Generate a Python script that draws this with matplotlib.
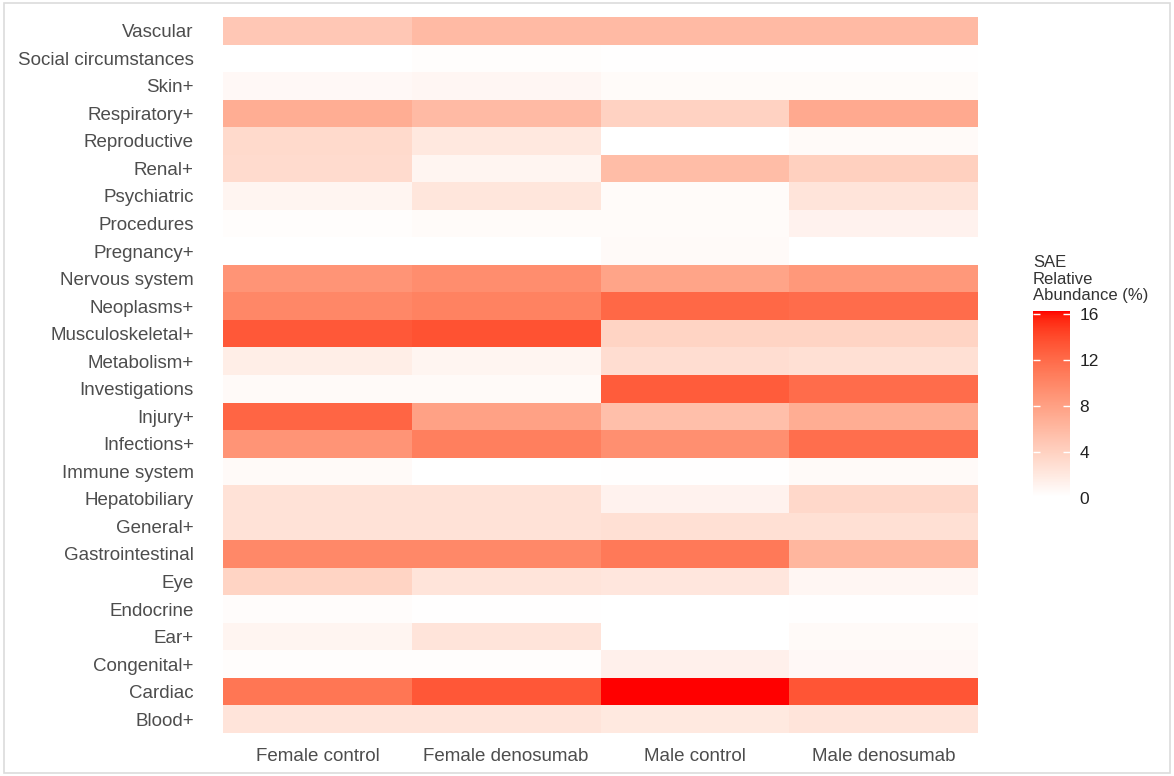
import numpy as np
import matplotlib
matplotlib.use("Agg")
import matplotlib.pyplot as plt
from matplotlib.colors import ListedColormap, Normalize
from matplotlib.patches import Rectangle

plt.rcParams['font.family'] = ['Liberation Sans', 'DejaVu Sans']

# SAE categories, listed top to bottom
categories = [
    "Vascular", "Social circumstances", "Skin+", "Respiratory+", "Reproductive",
    "Renal+", "Psychiatric", "Procedures", "Pregnancy+", "Nervous system",
    "Neoplasms+", "Musculoskeletal+", "Metabolism+", "Investigations", "Injury+",
    "Infections+", "Immune system", "Hepatobiliary", "General+", "Gastrointestinal",
    "Eye", "Endocrine", "Ear+", "Congenital+", "Cardiac", "Blood+",
]
groups = ["Female control", "Female denosumab", "Male control", "Male denosumab"]

# relative abundance (%) per group, same order as categories
female_control = [4.8, 0.1, 0.7, 7.0, 3.3, 3.2, 1.0, 0.3, 0.1, 9.0,
                  10.0, 13.2, 1.6, 0.6, 12.4, 9.0, 0.6, 2.6, 2.6, 9.9,
                  3.8, 0.4, 1.0, 0.3, 11.3, 2.4]
female_denosumab = [5.9, 0.3, 0.9, 5.9, 2.1, 1.0, 2.3, 0.5, 0.1, 9.5,
                    10.4, 13.6, 1.0, 0.6, 8.0, 10.6, 0.1, 2.6, 2.6, 9.9,
                    2.4, 0.2, 2.4, 0.3, 13.3, 2.4]
male_control = [5.9, 0.2, 0.5, 3.9, 0.1, 5.7, 0.5, 0.5, 0.6, 7.7,
                12.2, 3.8, 3.0, 13.0, 5.5, 9.4, 0.2, 1.2, 2.8, 11.0,
                2.2, 0.1, 0.1, 1.4, 16.3, 2.0]
male_denosumab = [5.9, 0.2, 0.5, 7.3, 0.6, 4.1, 2.4, 1.2, 0.1, 8.7,
                  11.9, 3.8, 2.8, 11.9, 7.0, 11.8, 0.6, 3.4, 2.8, 6.3,
                  0.9, 0.2, 0.6, 0.7, 13.4, 2.4]
legend_ticks = [0, 4, 8, 12, 16]


def _srgb_to_lab(rgb):
    c = np.asarray(rgb, float)
    lin = np.where(c <= 0.04045, c / 12.92, ((c + 0.055) / 1.055) ** 2.4)
    m = np.array([[0.4124, 0.3576, 0.1805],
                  [0.2126, 0.7152, 0.0722],
                  [0.0193, 0.1192, 0.9505]])
    xyz = m @ lin / np.array([0.95047, 1.0, 1.08883])
    f = np.where(xyz > 0.008856, np.cbrt(xyz), 7.787 * xyz + 16 / 116)
    return np.array([116 * f[1] - 16, 500 * (f[0] - f[1]), 200 * (f[1] - f[2])])


def _lab_to_srgb(lab):
    L, a, b = lab[:, 0], lab[:, 1], lab[:, 2]
    fy = (L + 16) / 116
    fx = fy + a / 500
    fz = fy - b / 200
    f = np.stack([fx, fy, fz], axis=1)
    xyz = np.where(f ** 3 > 0.008856, f ** 3, (f - 16 / 116) / 7.787)
    xyz = xyz * np.array([0.95047, 1.0, 1.08883])
    minv = np.array([[3.2406, -1.5372, -0.4986],
                     [-0.9689, 1.8758, 0.0415],
                     [0.0557, -0.2040, 1.0570]])
    lin = np.clip(xyz @ minv.T, 0, 1)
    return np.where(lin <= 0.0031308, 12.92 * lin,
                    1.055 * lin ** (1 / 2.4) - 0.055)


# white -> red gradient interpolated in CIE Lab
lab_lo = _srgb_to_lab([1, 1, 1])
lab_hi = _srgb_to_lab([1, 0, 0])
tt = np.linspace(0, 1, 256)[:, None]
cmap = ListedColormap(_lab_to_srgb(lab_lo + tt * (lab_hi - lab_lo)))

values = np.column_stack([female_control, female_denosumab,
                          male_control, male_denosumab])
norm = Normalize(vmin=values.min(), vmax=values.max())

W, H = 1174, 776
fig = plt.figure(figsize=(W / 100, H / 100), dpi=100)
fig.patch.set_facecolor('white')

ax = fig.add_axes([223 / W, 1 - 733 / H, (978 - 223) / W, (733 - 17) / H])
ax.pcolormesh(np.arange(len(groups) + 1), np.arange(len(categories) + 1),
              values, cmap=cmap, norm=norm, shading='flat')
ax.set_xlim(0, len(groups))
ax.set_ylim(len(categories), 0)
ax.set_xticks(np.arange(len(groups)) + 0.5)
ax.set_xticklabels(groups)
ax.set_yticks(np.arange(len(categories)) + 0.5)
ax.set_yticklabels(categories)
ax.tick_params(axis='both', length=0, labelsize=13.5, labelcolor='#4D4D4D')
ax.tick_params(axis='y', pad=21)
ax.tick_params(axis='x', pad=11)
for s in ax.spines.values():
    s.set_visible(False)

# colour bar legend
cax = fig.add_axes([1033 / W, 1 - 498 / H, 37 / W, (498 - 311) / H])
cb = fig.colorbar(plt.cm.ScalarMappable(norm=norm, cmap=cmap), cax=cax)
cb.outline.set_visible(False)
cb.set_ticks(legend_ticks)
cb.ax.tick_params(length=0, labelsize=12.5, labelcolor='#222222', pad=7)
for v in legend_ticks:
    cax.hlines(v, 0, 0.2, colors='white', lw=1.0, transform=cax.get_yaxis_transform())
    cax.hlines(v, 0.8, 1.0, colors='white', lw=1.0, transform=cax.get_yaxis_transform())
fig.text(1033 / W, 1 - 303 / H, "SAE\nRelative\nAbundance (%)", ha='left', va='bottom',
         fontsize=12, color='#333333', linespacing=1.12)

# light frame around the whole plot
fig.patches.append(Rectangle((4 / W, 3 / H), (W - 8) / W, (H - 6) / H,
                             transform=fig.transFigure, fill=False,
                             edgecolor='#DCDCDC', lw=1.2))

fig.savefig("out.png", dpi=100)
